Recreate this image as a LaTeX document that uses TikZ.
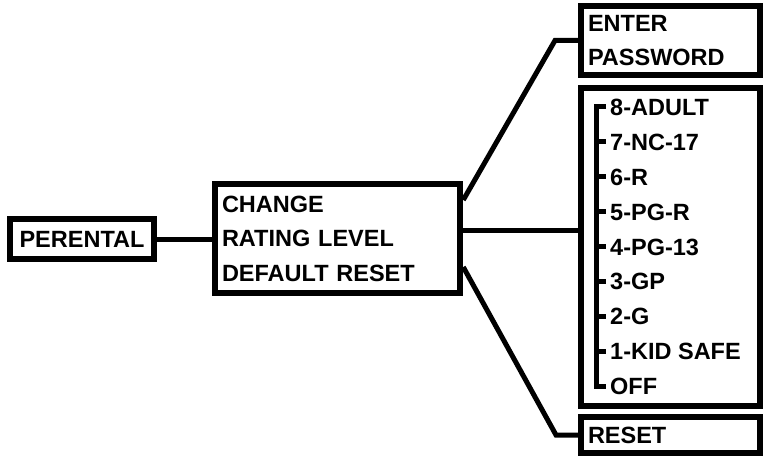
\documentclass[tikz,border=0pt]{standalone}
\usepackage{fontspec}
\setmainfont{Liberation Sans}
\newcommand{\letra}{\bfseries\fontsize{23.5}{34.5}\selectfont}
\begin{document}
\begin{tikzpicture}[x=1pt,y=-1pt,
	caja/.style={draw,line width=6.5pt,inner ysep=0pt,inner xsep=7pt,align=left,font=\letra},
	linea/.style={line width=5pt},
	nivel/.style={inner sep=0pt,anchor=west,text height=16.8pt,text depth=0pt,font=\letra}]
		\useasboundingbox (0,0) rectangle (765,457);
		% Caja PERENTAL
		\node[caja,inner xsep=0pt,minimum width=144pt,minimum height=40pt,align=center] (par) at (82,239) {PERENTAL};
		% Menu
		\node[caja,text width=231pt,minimum height=109pt] (menu) at (337.5,238.5) {CHANGE\\RATING LEVEL\\DEFAULT RESET};
		% Cajas de la derecha
		\node[caja,text width=165pt,minimum height=69pt] (pass) at (670.5,40.5) {ENTER\\PASSWORD};
		\node[caja,inner sep=0pt,minimum width=179pt,minimum height=318pt] (rate) at (670.5,247) {};
		\node[caja,text width=165pt,minimum height=36pt] (reset) at (670.5,435) {RESET};
		% Niveles
		\foreach \t [count=\i] in {8-ADULT,7-NC-17,6-R,5-PG-R,4-PG-13,3-GP,2-G,1-KID SAFE,OFF}
			\node[nivel] (r\i) at (610,{107+34.9*(\i-1)}) {\t};
		\draw[linea] ([xshift=-4pt]r1.west) -- ([xshift=-14pt]r1.west) -- ([xshift=-14pt]r9.west) -- ([xshift=-4pt]r9.west);
		\foreach \i in {2,...,8}
			\draw[linea] ([xshift=-14pt]r\i.west) -- ([xshift=-4pt]r\i.west);
		% Conectores
		\coordinate (codoA) at (555,40.5);
		\coordinate (codoB) at (556,435);
		\coordinate (medio) at ([yshift=8.5pt]menu.east);
		\draw[linea] (par.east) -- (par.east -| menu.west);
		\draw[linea] ([yshift=38.5pt]menu.east) -- (codoA) -- (pass.west);
		\draw[linea] (medio) -- (medio -| rate.west);
		\draw[linea] ([yshift=-28.5pt]menu.east) -- (codoB) -- (reset.west);
\end{tikzpicture}
\end{document}
